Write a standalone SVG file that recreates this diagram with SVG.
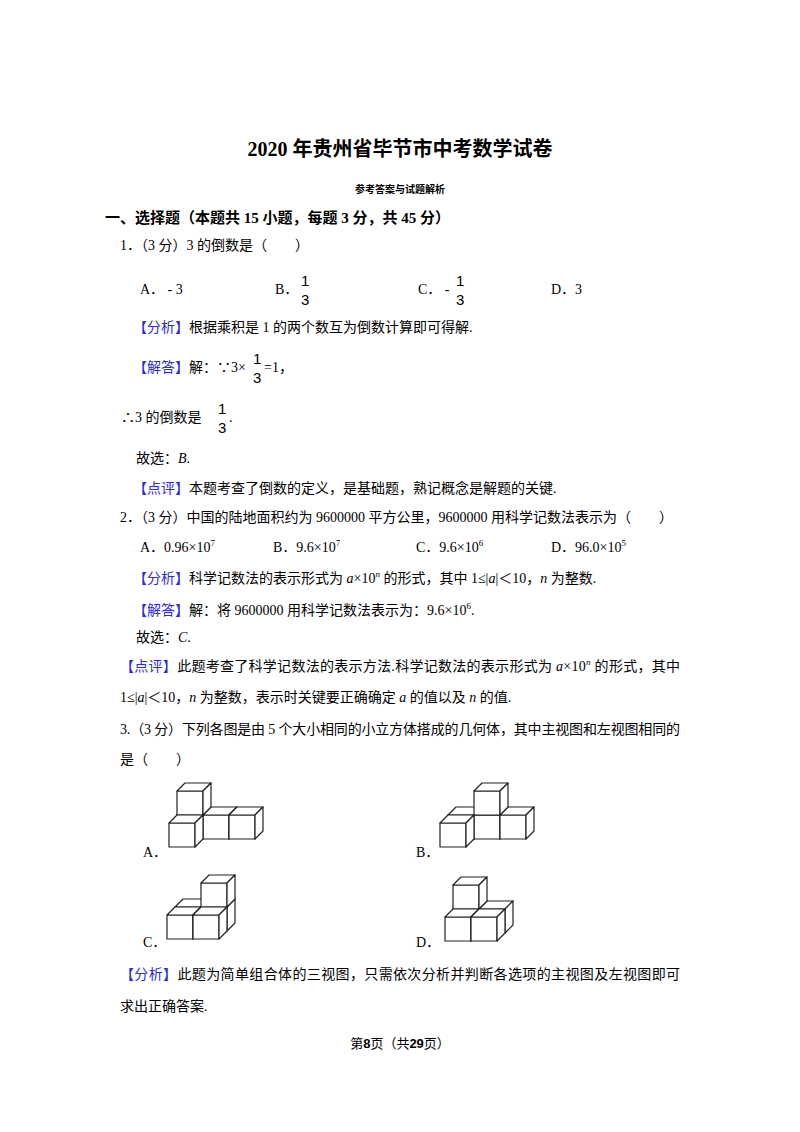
<svg xmlns="http://www.w3.org/2000/svg" width="800" height="1132" viewBox="0 0 800 1132">
<style>
text{font-family:"Liberation Serif","Noto Sans CJK SC",serif;font-size:14px;fill:#000}
.b{fill:#2b2bd8}
.bold{font-weight:bold}
.it{font-style:italic}
.fr{font-family:"Liberation Sans","Noto Sans CJK SC",sans-serif;font-size:15px}
.sup{font-size:9px}
.cf{fill:#fff;stroke:#222;stroke-width:1.2;stroke-linejoin:round}
</style>
<rect width="800" height="1132" fill="#fff"/>
<g id="text">
<text x="400" y="156" text-anchor="middle" class="bold" style="font-size:20px">2020 年贵州省毕节市中考数学试卷</text>
<text x="400" y="193" text-anchor="middle" class="bold" style="font-size:10px">参考答案与试题解析</text>
<text x="105" y="223" class="bold" style="font-size:15px">一、选择题（本题共 15 小题，每题 3 分，共 45 分）</text>
<text x="120" y="250">1．（3 分）3 的倒数是（　　）</text>
<text x="140" y="294">A．  - 3</text>
<text x="275" y="294">B．</text>
<text x="301" y="286" class="fr">1</text><text x="301" y="305" class="fr">3</text>
<text x="418" y="294">C．  -</text>
<text x="456" y="286" class="fr">1</text><text x="456" y="305" class="fr">3</text>
<text x="551" y="294">D．3</text>
<text x="133" y="332"><tspan class="b">【分析】</tspan>根据乘积是 1 的两个数互为倒数计算即可得解.</text>
<text x="133" y="372"><tspan class="b">【解答】</tspan>解：∵3×</text>
<text x="253" y="364" class="fr">1</text><text x="253" y="383" class="fr">3</text>
<text x="264" y="372">=1，</text>
<text x="121" y="422">∴3 的倒数是</text>
<text x="218" y="414" class="fr">1</text><text x="218" y="433" class="fr">3</text>
<text x="229" y="422">.</text>
<text x="136" y="463">故选：<tspan class="it">B</tspan>.</text>
<text x="133" y="493"><tspan class="b">【点评】</tspan>本题考查了倒数的定义，是基础题，熟记概念是解题的关键.</text>
<text x="120" y="522">2．（3 分）中国的陆地面积约为 9600000 平方公里，9600000 用科学记数法表示为（　　）</text>
<text x="140" y="552">A．0.96×10<tspan class="sup" dy="-6">7</tspan></text>
<text x="273" y="552">B．9.6×10<tspan class="sup" dy="-6">7</tspan></text>
<text x="416" y="552">C．9.6×10<tspan class="sup" dy="-6">6</tspan></text>
<text x="551" y="552">D．96.0×10<tspan class="sup" dy="-6">5</tspan></text>
<text x="133" y="583"><tspan class="b">【分析】</tspan>科学记数法的表示形式为 <tspan class="it">a</tspan>×10<tspan class="sup it" dy="-6">n</tspan><tspan dy="6"> 的形式，其中 1≤|</tspan><tspan class="it">a</tspan>|＜10，<tspan class="it">n</tspan> 为整数.</text>
<text x="133" y="615"><tspan class="b">【解答】</tspan>解：将 9600000 用科学记数法表示为：9.6×10<tspan class="sup" dy="-6">6</tspan><tspan dy="6">.</tspan></text>
<text x="136" y="642">故选：<tspan class="it">C</tspan>.</text>
<text x="120" y="671" textLength="560"><tspan class="b">【点评】</tspan>此题考查了科学记数法的表示方法.科学记数法的表示形式为 <tspan class="it">a</tspan>×10<tspan class="sup it" dy="-6">n</tspan><tspan dy="6"> 的形式，其中</tspan></text>
<text x="120" y="702">1≤|<tspan class="it">a</tspan>|＜10，<tspan class="it">n</tspan> 为整数，表示时关键要正确确定 <tspan class="it">a</tspan> 的值以及 <tspan class="it">n</tspan> 的值.</text>
<text x="120" y="734" textLength="560">3.（3 分）下列各图是由 5 个大小相同的小立方体搭成的几何体，其中主视图和左视图相同的</text>
<text x="120" y="764">是（　　）</text>
<text x="143" y="857">A．</text>
<text x="416" y="857">B．</text>
<text x="143" y="947">C．</text>
<text x="416" y="947">D．</text>
<text x="120" y="979" textLength="560"><tspan class="b">【分析】</tspan>此题为简单组合体的三视图，只需依次分析并判断各选项的主视图及左视图即可</text>
<text x="120" y="1011">求出正确答案.</text>
<text x="400" y="1048" text-anchor="middle" style="font-size:13px">第<tspan class="bold" style="font-family:'Liberation Sans',sans-serif">8</tspan>页（共<tspan class="bold" style="font-family:'Liberation Sans',sans-serif">29</tspan>页）</text>
</g>
<defs>
<g id="cube">
<polygon class="cf" points="0,0 26,0 26,24 0,24"/>
<polygon class="cf" points="0,0 8,-8 34,-8 26,0"/>
<polygon class="cf" points="26,0 34,-8 34,16 26,24"/>
</g>
</defs>
<g id="figA">
<use href="#cube" x="177" y="815"/>
<use href="#cube" x="203" y="815"/>
<use href="#cube" x="229" y="815"/>
<use href="#cube" x="177" y="791"/>
<use href="#cube" x="169" y="823"/>
</g>
<g id="figB">
<use href="#cube" x="448" y="815"/>
<use href="#cube" x="474" y="815"/>
<use href="#cube" x="500" y="815"/>
<use href="#cube" x="474" y="791"/>
<use href="#cube" x="440" y="823"/>
</g>
<g id="figC">
<use href="#cube" x="175" y="907"/>
<use href="#cube" x="201" y="907"/>
<use href="#cube" x="201" y="883"/>
<use href="#cube" x="167" y="915"/>
<use href="#cube" x="193" y="915"/>
</g>
<g id="figD">
<use href="#cube" x="453" y="909"/>
<use href="#cube" x="479" y="909"/>
<use href="#cube" x="453" y="885"/>
<use href="#cube" x="445" y="917"/>
<use href="#cube" x="471" y="917"/>
</g>
<g id="connectors"/>
</svg>
